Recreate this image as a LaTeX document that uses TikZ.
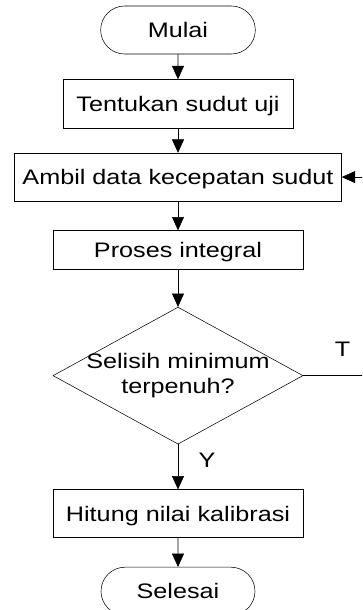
\documentclass[tikz,border=0pt]{standalone}
\usepackage{fontspec}
\setmainfont{Liberation Sans}[FakeStretch=1.2]
\usetikzlibrary{shapes.geometric,shapes.misc,positioning,arrows.meta}
\tikzset{
line width=0.8pt,
every node/.style={font=\fontsize{15.75}{18.75}\selectfont},
}

\begin{document}
\begin{tikzpicture}
    [>={Triangle[length=10pt,width=9pt]},
    node distance=18pt,
    terminal/.style={draw, rounded rectangle, minimum height=36pt, inner sep=0pt, text height=11.3pt, text depth=0pt},
    process/.style={draw, rectangle, minimum height=36pt, inner sep=0pt, text height=11.3pt, text depth=0pt},
    decision/.style={draw, diamond, minimum width=187.5pt, minimum height=102.75pt, inner sep=0pt}
    ]

    \useasboundingbox (-133.5pt,22.5pt) rectangle (138pt,-435pt);
    \clip (-133.5pt,22.5pt) rectangle (138pt,-435pt);

    \node [terminal, minimum width=116pt] (mulai)
    {
        Mulai
    };

    \node [process, minimum width=172.5pt, minimum height=36.75pt] (tentukan) [below=18.75pt of mulai]
    {
        Tentukan sudut uji
    };

    \node [process, minimum width=245.25pt] (ambil) [below=18pt of tentukan]
    {
        Ambil data kecepatan sudut
    };

    \node [process, minimum width=187.5pt, minimum height=29.25pt] (proses) [below=21.75pt of ambil]
    {
        Proses integral
    };

    \node [decision, label={[name=cektext, align=center]center:Selisih minimum\\terpenuh?}] (cek) [below=27.75pt of proses]
    {};

    \node [process, minimum width=187.5pt] (hitung) [below=33.75pt of cek]
    {
        Hitung nilai kalibrasi
    };

    \node [terminal, minimum width=115.5pt] (selesai) [below=21.75pt of hitung]
    {
        Selesai
    };

    \draw[->] (mulai) edge (tentukan);
    \draw[->] (tentukan) edge (ambil);
    \draw[->] (ambil) edge (proses);
    \draw[->] (proses) edge (cek);
    \draw[->] (cek) edge node[pos=0.36, right=12pt] {Y} (hitung);
    \draw[->] (hitung) edge (selesai);
    \draw[->] (cek.east) -- node[pos=0.49, above=11pt] {T} ++(60pt,0) |- (ambil.east);

\end{tikzpicture}
\end{document}
